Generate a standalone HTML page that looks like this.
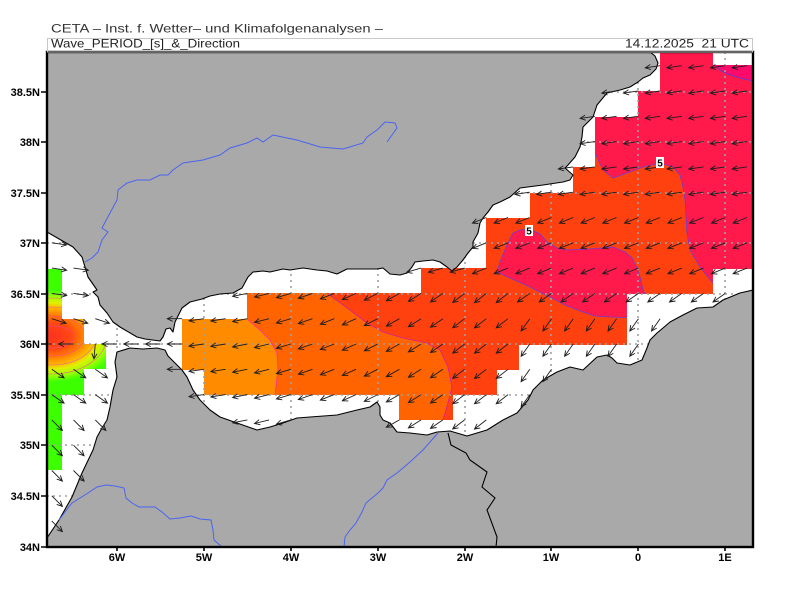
<!DOCTYPE html>
<html><head><meta charset="utf-8"><style>
html,body{margin:0;padding:0;background:#fff;}
svg{display:block;}
text{font-family:"Liberation Sans",sans-serif;}
</style></head><body>
<svg id="s" width="800" height="600" viewBox="0 0 800 600" xmlns="http://www.w3.org/2000/svg">
<defs>
<clipPath id="plot"><rect x="47" y="52" width="706" height="495"/></clipPath>
<clipPath id="maskA">
<rect x="660" y="53" width="53" height="13"/>
<rect x="660" y="65" width="93" height="27"/>
<rect x="638" y="91" width="115" height="27"/>
<rect x="595" y="117" width="158" height="51"/>
<rect x="573" y="167" width="180" height="27"/>
<rect x="530" y="193" width="223" height="26"/>
<rect x="486" y="218" width="267" height="51"/>
<rect x="421" y="268" width="292" height="26"/>
<rect x="247" y="293" width="380" height="27"/>
<rect x="182" y="319" width="445" height="26"/>
<rect x="182" y="344" width="337" height="26"/>
<rect x="204" y="369" width="293" height="26"/>
<rect x="399" y="394" width="54" height="26"/>
</clipPath>
<clipPath id="maskB">
<rect x="47" y="269" width="15" height="201"/>
<rect x="47" y="319" width="37" height="76"/>
<rect x="47" y="344" width="59" height="25"/>
</clipPath>
<radialGradient id="hot" gradientUnits="userSpaceOnUse" cx="0" cy="0" r="1" gradientTransform="translate(52 336) scale(66 46)">
<stop offset="0" stop-color="#ff3020"/>
<stop offset="0.3" stop-color="#ff4a12"/>
<stop offset="0.45" stop-color="#ff7a00"/>
<stop offset="0.6" stop-color="#ffb000"/>
<stop offset="0.72" stop-color="#e0f000"/>
<stop offset="0.86" stop-color="#98ff00"/>
<stop offset="1" stop-color="#3cff00"/>
</radialGradient>
</defs>

<g clip-path="url(#plot)">
<rect x="47" y="52" width="706" height="495" fill="#fff"/>
<g clip-path="url(#maskA)">
<rect x="150" y="50" width="610" height="380" fill="#ff410f"/>
<polygon fill="#ff6400" points="150,280 320,280 327,293 350,310 367,323 383,332 403,338 427,343 440,350 448,367 452,387 448,403 443,420 443,430 150,430"/>
<polygon fill="#ff8c00" points="150,300 240,300 247,319 260,330 270,340 277,353 278,370 275,395 275,410 150,410"/>
<polygon fill="#ff1a4b" points="590,40 760,40 760,283 713,283 700,267 690,250 687,233 685,200 683,187 680,175 673,167 660,163 643,167 627,173 613,178 603,170 595,153 590,150"/>
<polygon fill="#ff1a4b" points="497,272 500,262 507,245 513,233 520,230 530,229 540,234 547,242 557,248 567,250 590,249 613,247 625,252 632,258 637,268 640,277 643,290 645,294 645,318 610,317 595,316 583,312 565,305 550,297 530,287 510,278"/>
<polygon fill="#ff0a6a" points="714,65 720,70 727,74 740,78 753,81 760,81 760,65"/>
<g fill="none" stroke-width="0.8">
<polyline stroke="#ff2aa0" points="247,319 260,330 270,340 277,353 278,370 275,395"/>
<polyline stroke="#d0209a" points="327,293 350,310 367,323 383,332 403,338 427,343 440,350 448,367 452,387 448,403 443,420"/>
<polyline stroke="#6a3cd8" points="595,153 603,170 613,178 627,173 643,167 660,163 673,167 680,175 683,187 685,200 687,233 690,250 700,267 713,283"/>
<polygon stroke="#6a3cd8" points="497,272 500,262 507,245 513,233 520,230 530,229 540,234 547,242 557,248 567,250 590,249 613,247 625,252 632,258 637,268 640,277 643,290 645,294 645,318 610,317 595,316 583,312 565,305 550,297 530,287 510,278"/>
<polyline stroke="#4a40e0" points="714,65 720,70 727,74 740,78 753,81"/>
</g>
</g>
<g clip-path="url(#maskB)">
<rect x="47" y="260" width="70" height="215" fill="url(#hot)"/>
<g fill="none" stroke="#ff40b0" stroke-width="0.6" opacity="0.8">
<ellipse cx="52" cy="337" rx="22" ry="11"/>
<ellipse cx="52" cy="336" rx="33" ry="20"/>
<ellipse cx="52" cy="336" rx="44" ry="29"/>
<ellipse cx="52" cy="336" rx="55" ry="38"/>
</g>
</g>

<g stroke="#a0a0a0" stroke-width="1.6" stroke-dasharray="2 4" fill="none">
<path d="M117 52V547M204 52V547M291 52V547M378 52V547M465 52V547M551 52V547M638 52V547M725 52V547"/>
<path d="M47 92H753M47 142H753M47 193H753M47 243H753M47 294H753M47 344H753M47 395H753M47 445H753M47 496H753"/>
</g>

<g fill="#a9a9a9" stroke="#000" stroke-width="1.1" stroke-linejoin="round">
<polygon id="spain" points="40,45 650,45 650,52 655,56 658,63 656,69 650,75 643,78 638,82 630,87 620,90 607,93 597,105 593,117 588,122 583,127 582,137 580,147 575,157 568,165 565,168 573,175 570,180 563,182 543,185 520,188 510,197 500,202 493,205 488,212 483,218 480,223 478,233 473,242 473,247 468,253 463,260 457,267 452,271 447,267 440,262 433,260 423,261 415,262 412,267 407,273 400,275 390,274 383,268 377,269 360,269 347,269 337,274 327,271 317,270 303,268 290,270 283,269 270,272 263,271 253,272 248,277 242,288 233,293 220,294 210,296 202,299 190,302 182,308 175,322 173,332 170,328 166,329 163,337 160,341 145,339 137,337 120,327 113,322 107,313 100,305 98,297 93,292 97,290 88,277 85,267 82,257 73,247 47,232 40,228"/>
<polygon id="morocco" points="40,542 47,538 59,520 72,497 82,473 93,450 97,437 102,428 107,420 110,407 113,390 117,377 115,362 117,352 130,348 143,349 157,348 165,350 168,356 172,360 176,364 182,370 187,377 193,390 200,400 210,410 220,417 237,423 257,430 270,427 283,423 297,418 310,417 337,415 357,410 370,407 377,402 380,407 380,415 383,420 390,423 397,432 410,433 427,435 437,432 450,431 467,436 487,430 503,420 517,413 528,400 533,390 543,380 557,372 570,367 583,370 597,357 607,355 612,358 617,363 630,365 642,360 647,348 650,340 657,333 663,328 670,322 683,315 697,308 713,307 723,300 740,293 753,290 760,288 760,555 40,555"/>
</g>
<g fill="none" stroke="#4a64f0" stroke-width="1">
<polyline points="85,262 92,258 98,252 102,240 108,232 102,228 110,213 117,200 118,190 127,183 137,180 150,180 160,175 168,175 173,170 183,163 203,160 220,155 230,148 247,143 257,138 263,142 273,135 287,138 297,140 307,143 320,147 343,149 363,143 367,137 377,130 385,122 395,123 397,128 387,142"/>
<polyline points="438,433 430,442 423,450 410,462 397,473 387,480 383,488 378,493 366,503 362,512 356,523 350,530 345,537 344,547"/>
<polyline points="59,520 65,512 72,503 80,498 88,493 97,487 106,485 115,486 124,488 126,498 132,503 139,507 155,507 162,512 170,519 180,518 191,516 200,519 211,520 213,530 214,540 222,547"/>
</g>
<polyline fill="none" stroke="#000" stroke-width="1.1" points="448,433 451,445 466,453 470,460 487,472 482,487 495,498 487,510 497,537 496,547"/>
<g id="arrows" fill="none" stroke="#1e1e1e" stroke-width="0.9"></g>
<rect x="656" y="157" width="8" height="11" fill="#fff"/>
<text x="660" y="166.5" font-size="10" font-weight="bold" text-anchor="middle" fill="#000">5</text>
<rect x="525" y="225" width="8" height="11" fill="#fff"/>
<text x="529" y="234.5" font-size="10" font-weight="bold" text-anchor="middle" fill="#000">5</text>
</g>

<rect x="47" y="52" width="706" height="495" fill="none" stroke="#000" stroke-width="2.4"/>
<rect x="47.5" y="38.5" width="705" height="13.5" fill="none" stroke="#c8c8c8" stroke-width="1"/>
<g stroke="#000" stroke-width="1.6">
<path d="M41 92H47M41 142H47M41 193H47M41 243H47M41 294H47M41 344H47M41 395H47M41 445H47M41 496H47M41 547H47"/>
<path d="M117 547V551M204 547V551M291 547V551M378 547V551M465 547V551M551 547V551M638 547V551M725 547V551"/>
</g>
<g font-size="11" font-weight="bold" fill="#000" text-anchor="end">
<text x="40" y="96">38.5N</text>
<text x="40" y="146">38N</text>
<text x="40" y="197">37.5N</text>
<text x="40" y="247">37N</text>
<text x="40" y="298">36.5N</text>
<text x="40" y="348">36N</text>
<text x="40" y="399">35.5N</text>
<text x="40" y="449">35N</text>
<text x="40" y="500">34.5N</text>
<text x="40" y="551">34N</text>
</g>
<g font-size="11" font-weight="bold" fill="#000" text-anchor="middle">
<text x="117" y="561">6W</text>
<text x="204" y="561">5W</text>
<text x="291" y="561">4W</text>
<text x="378" y="561">3W</text>
<text x="465" y="561">2W</text>
<text x="551" y="561">1W</text>
<text x="638" y="561">0</text>
<text x="725" y="561">1E</text>
</g>
<text x="51" y="32.5" font-size="12" fill="#333" textLength="332" lengthAdjust="spacingAndGlyphs">CETA – Inst. f. Wetter– und Klimafolgenanalysen –</text>
<text x="51" y="47.5" font-size="12" fill="#222" textLength="189" lengthAdjust="spacingAndGlyphs">Wave_PERIOD_[s]_&amp;_Direction</text>
<text x="625" y="47.5" font-size="12" fill="#222" textLength="124" lengthAdjust="spacingAndGlyphs" xml:space="preserve">14.12.2025  21 UTC</text>
</svg>
<script>
(function(){
function pts(id){var a=document.getElementById(id).getAttribute('points').trim().split(/\s+/);return a.map(function(p){var q=p.split(',');return [+q[0],+q[1]];});}
var S=pts('spain'),M=pts('morocco');
function pip(p,x,y){var c=false;for(var i=0,j=p.length-1;i<p.length;j=i++){var xi=p[i][0],yi=p[i][1],xj=p[j][0],yj=p[j][1];if(((yi>y)!=(yj>y))&&(x<(xj-xi)*(y-yi)/(yj-yi)+xi))c=!c;}return c;}
function ang(x,y){
 if(x<112){ if(y<300) return 8; if(y<332) return 18; if(y<356) return x<85?180:95; return y<400?35:45; }
 if(x<200) return 180;
 if(y<210) return 172;
 if(y<285) return x>480?158:164;
 if(x>520&&y>300) return 125;
 if(x>520) return 145;
 return 172-Math.min(30,Math.max(0,(x-220)*0.12));
}
var g=document.getElementById('arrows'),NS='http://www.w3.org/2000/svg';
for(var k=0;k<=33;k++){var x=51.8+k*21.725;if(x>752)break;
 for(var j=0;j<=19;j++){var lat=34.25+j*0.25;var y=344-(lat-36)*101.2;if(y<53||y>546)continue;
  if(pip(S,x,y)||pip(M,x,y))continue;
  var a=ang(x,y)*Math.PI/180,L=15,tx=x+L*Math.cos(a),ty=y+L*Math.sin(a);
  var h1=a+Math.PI-0.45,h2=a+Math.PI+0.45;
  var d='M'+x.toFixed(1)+' '+y.toFixed(1)+'L'+tx.toFixed(1)+' '+ty.toFixed(1)+'M'+(tx+6*Math.cos(h1)).toFixed(1)+' '+(ty+6*Math.sin(h1)).toFixed(1)+'L'+tx.toFixed(1)+' '+ty.toFixed(1)+'L'+(tx+6*Math.cos(h2)).toFixed(1)+' '+(ty+6*Math.sin(h2)).toFixed(1);
  var e=document.createElementNS(NS,'path');e.setAttribute('d',d);g.appendChild(e);
 }}
})();
</script>
</body></html>
